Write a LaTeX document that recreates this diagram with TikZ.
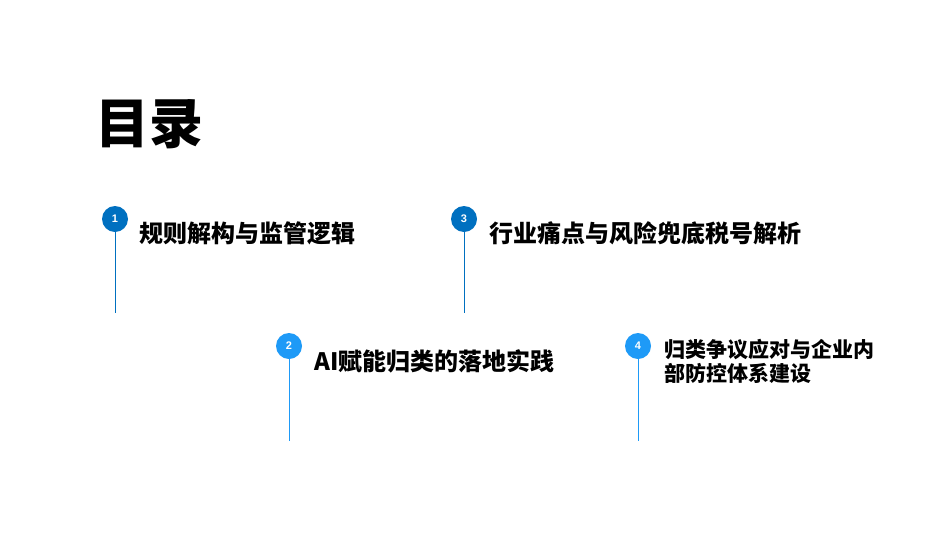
\documentclass[tikz,border=0pt]{standalone}
\usepackage{fontspec}
\newfontfamily\cjk{Noto Sans CJK SC}
\newfontfamily\numfont{Liberation Sans}
\definecolor{darkblue}{HTML}{0070C0}
\definecolor{lightblue}{HTML}{1E9AF7}
\begin{document}
\begin{tikzpicture}[x=1pt,y=-1pt,
  numdot/.style={circle,fill=#1,minimum size=26pt,inner sep=0pt,text=white,font=\numfont\bfseries\fontsize{11}{11}\selectfont},
  stem/.style={draw=#1,line width=0.9pt},
  itemtext/.style={anchor=west,inner sep=0pt,align=left,font=\cjk\bfseries\fontsize{#1}{#1}\selectfont},
  title/.style={anchor=west,inner sep=0pt,font=\cjk\bfseries\fontsize{54}{54}\selectfont}]
\useasboundingbox[fill=white] (0,0) rectangle (952,536);
\node[title] (t) at (95,124) {目录};
% item 1
\node[numdot=darkblue] (c1) at (115,219) {1};
\coordinate (e1) at (115,313);
\draw[stem=darkblue] (c1.south) -- (e1);
\node[itemtext=24] (l1) at (139,233) {规则解构与监管逻辑};
% item 3
\node[numdot=darkblue] (c3) at (464,219) {3};
\coordinate (e3) at (464,313);
\draw[stem=darkblue] (c3.south) -- (e3);
\node[itemtext=24] (l3) at (489,233) {行业痛点与风险兜底税号解析};
% item 2
\node[numdot=lightblue] (c2) at (289,346) {2};
\coordinate (e2) at (289,441);
\draw[stem=lightblue] (c2.south) -- (e2);
\node[itemtext=24] (l2) at (314,361) {AI赋能归类的落地实践};
% item 4
\node[numdot=lightblue] (c4) at (638,346) {4};
\coordinate (e4) at (638,441);
\draw[stem=lightblue] (c4.south) -- (e4);
\node[itemtext=21] (l4) at (664,361.5) {归类争议应对与企业内\\[3pt]部防控体系建设};
\end{tikzpicture}
\end{document}
